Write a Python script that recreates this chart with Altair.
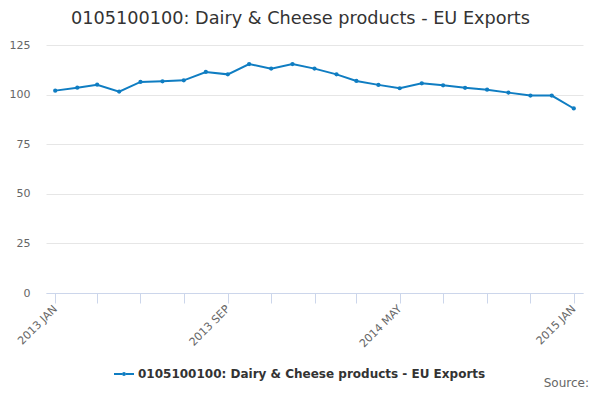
import altair as alt
import pandas as pd

SERIES = "0105100100: Dairy & Cheese products - EU Exports"
LINE_COLOR = "#0f7dc2"

MONTHS = [
    "2013-01", "2013-02", "2013-03", "2013-04", "2013-05", "2013-06", "2013-07",
    "2013-08", "2013-09", "2013-10", "2013-11", "2013-12", "2014-01", "2014-02",
    "2014-03", "2014-04", "2014-05", "2014-06", "2014-07", "2014-08", "2014-09",
    "2014-10", "2014-11", "2014-12", "2015-01",
]
VALUES = [
    102.0, 103.5, 105.0, 101.5, 106.4, 106.7, 107.2, 111.4, 110.2, 115.4,
    113.1, 115.4, 113.1, 110.2, 106.9, 104.9, 103.2, 105.7, 104.7, 103.4,
    102.5, 101.0, 99.5, 99.5, 93.0,
]
Y_TICKS = [0, 25, 50, 75, 100, 125]
X_TICKS = [
    (2013, 1), (2013, 3), (2013, 5), (2013, 7), (2013, 9), (2013, 11),
    (2014, 1), (2014, 3), (2014, 5), (2014, 7), (2014, 9), (2014, 11), (2015, 1),
]

data = pd.DataFrame({
    "month": [m + "-01T00:00:00" for m in MONTHS],
    "value": VALUES,
    "series": SERIES,
})

FONT = "DejaVu Sans"
label_expr = (
    "((year(datum.value) - 2013) * 12 + month(datum.value)) % 8 == 0"
    " ? upper(timeFormat(datum.value, '%Y %b')) : ''"
)
# line-with-marker legend symbol
LEGEND_SYMBOL = (
    "M-1,-0.1L-0.2,-0.1L-0.2,0.1L-1,0.1Z "
    "M0.2,-0.1L1,-0.1L1,0.1L0.2,0.1Z "
    "M-0.2,0A0.2,0.2 0 1,0 0.2,0A0.2,0.2 0 1,0 -0.2,0Z"
)

x = alt.X(
    "month:T",
    title=None,
    scale=alt.Scale(
        domain=[
            alt.DateTime(year=2012, month=12, date=19),
            alt.DateTime(year=2015, month=1, date=14),
        ]
    ),
    axis=alt.Axis(
        values=[alt.DateTime(year=yr, month=mo, date=1) for yr, mo in X_TICKS],
        labelExpr=label_expr,
        labelAngle=-45,
        labelAlign="right",
        labelBaseline="middle",
        labelOverlap=False,
        labelColor="#666666",
        labelFontSize=11,
        labelFont=FONT,
        labelPadding=4,
        domainColor="#ccd6eb",
        tickColor="#ccd6eb",
        tickSize=10,
        grid=False,
    ),
)
y = alt.Y(
    "value:Q",
    title=None,
    scale=alt.Scale(domain=[0, 125], nice=False),
    axis=alt.Axis(
        values=Y_TICKS,
        domain=False,
        ticks=False,
        gridColor="#e6e6e6",
        labelColor="#666666",
        labelFontSize=11,
        labelFont=FONT,
        labelPadding=16,
    ),
)

line = alt.Chart(data).mark_line(
    strokeWidth=2,
    point=alt.OverlayMarkDef(size=18, filled=True, color=LINE_COLOR),
).encode(
    x=x,
    y=y,
    color=alt.Color(
        "series:N",
        scale=alt.Scale(domain=[SERIES], range=[LINE_COLOR]),
        legend=alt.Legend(
            title=None,
            orient="none",
            legendX=68,
            legendY=319,
            symbolType=LEGEND_SYMBOL,
            symbolSize=400,
            symbolFillColor=LINE_COLOR,
            symbolStrokeWidth=0,
            labelFontSize=12,
            labelFontWeight="bold",
            labelColor="#333333",
            labelFont=FONT,
            labelLimit=0,
        ),
    ),
)

source = alt.Chart(pd.DataFrame({"t": ["Source:"]})).mark_text(
    align="right", baseline="middle", fontSize=12, color="#666666", font=FONT
).encode(x=alt.value(543), y=alt.value(338), text="t:N")

chart = (line + source).properties(
    width=537,
    height=248,
    autosize=alt.AutoSizeParams(type="none"),
    padding={"left": 38, "top": 37, "right": 9, "bottom": 98},
    title=alt.TitleParams(
        SERIES,
        anchor="middle",
        dx=-14,
        offset=11,
        fontSize=17.7,
        fontWeight="normal",
        color="#333333",
        font=FONT,
    ),
).configure_view(stroke=None)

chart.save("out.html", embed_options={"renderer": "svg", "actions": False})
